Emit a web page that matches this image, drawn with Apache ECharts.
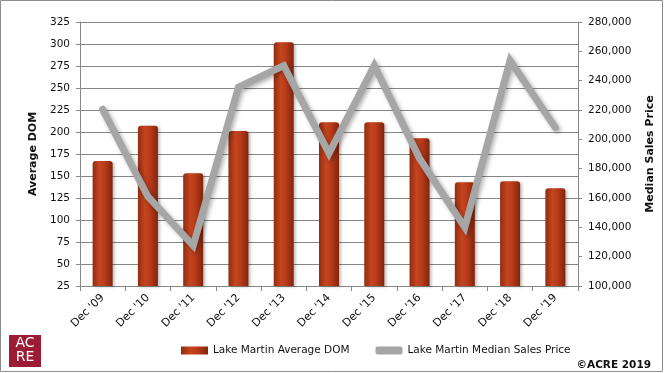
<!DOCTYPE html>
<html><head><meta charset="utf-8">
<script src="https://cdn.jsdelivr.net/npm/echarts@6/dist/echarts.min.js"></script>
<style>html,body{margin:0;padding:0;background:#fff}#c{width:664px;height:373px}</style>
</head><body><div id="c"></div>
<script>
const categories = ["Dec '09","Dec '10","Dec '11","Dec '12","Dec '13","Dec '14","Dec '15","Dec '16","Dec '17","Dec '18","Dec '19"];
const avgDOM = [167, 207, 153, 201, 302, 211, 211, 193, 143, 144, 136];
const medianPrice = [220500, 161000, 127500, 235500, 250300, 190500, 250300, 187000, 140000, 253700, 208000];
const domTicks = {min: 25, max: 325, interval: 25};
const priceTicks = {min: 100000, max: 280000, interval: 20000};

const chart = echarts.init(document.getElementById('c'), null, {renderer: 'canvas'});
const font = 'DejaVu Sans';
const barGrad = new echarts.graphic.LinearGradient(0, 0, 1, 0, [
  {offset: 0, color: '#922c10'},
  {offset: 0.35, color: '#c4451f'},
  {offset: 0.6, color: '#b93b19'},
  {offset: 1, color: '#80250c'}
]);
chart.setOption({
  animation: false,
  textStyle: {fontFamily: font},
  grid: {left: 80, right: 80, top: 22, bottom: 87},
  legend: {
    bottom: 12, left: 176, itemGap: 26, itemWidth: 27, itemHeight: 8,
    textStyle: {fontFamily: font, fontSize: 10.5, color: '#111'},
    data: [
      {name: 'Lake Martin Average DOM', icon: 'rect'},
      {name: 'Lake Martin Median Sales Price', icon: 'roundRect'}
    ]
  },
  xAxis: {
    type: 'category', data: categories,
    axisLine: {lineStyle: {color: '#888'}},
    axisTick: {show: true, alignWithLabel: false, length: 5, lineStyle: {color: '#888'}},
    axisLabel: {rotate: 45, interval: 0, fontSize: 11, color: '#111', margin: 10}
  },
  yAxis: [
    {
      type: 'value', min: domTicks.min, max: domTicks.max, interval: domTicks.interval,
      name: 'Average DOM', nameLocation: 'middle', nameRotate: 90, nameGap: 37,
      nameTextStyle: {fontWeight: 'bold', fontSize: 11, color: '#111'},
      axisLine: {show: true, lineStyle: {color: '#888'}},
      axisTick: {show: true, length: 4, lineStyle: {color: '#888'}},
      axisLabel: {fontSize: 10.5, color: '#111', margin: 10},
      splitLine: {lineStyle: {color: '#868686', width: 1}}
    },
    {
      type: 'value', min: priceTicks.min, max: priceTicks.max, interval: priceTicks.interval,
      position: 'right',
      name: 'Median Sales Price', nameLocation: 'middle', nameRotate: 90, nameGap: 67,
      nameTextStyle: {fontWeight: 'bold', fontSize: 11, color: '#111'},
      axisLine: {show: true, lineStyle: {color: '#888'}},
      axisTick: {show: true, length: 4, lineStyle: {color: '#888'}},
      axisLabel: {fontSize: 10.5, color: '#111', margin: 10,
        formatter: v => v.toLocaleString('en-US')},
      splitLine: {show: false}
    }
  ],
  series: [
    {
      name: 'Lake Martin Average DOM', type: 'bar', data: avgDOM, yAxisIndex: 0,
      barWidth: 20,
      itemStyle: {color: barGrad, borderRadius: [3, 3, 0, 0],
        shadowColor: 'rgba(0,0,0,0.25)', shadowBlur: 3, shadowOffsetX: 2, shadowOffsetY: 1}
    },
    {
      name: 'Lake Martin Median Sales Price', type: 'line', data: medianPrice, yAxisIndex: 1,
      symbol: 'none', z: 5,
      lineStyle: {color: '#a6a6a6', width: 7, cap: 'round', join: 'miter',
        shadowColor: 'rgba(0,0,0,0.3)', shadowBlur: 4, shadowOffsetX: 2, shadowOffsetY: 2},
      itemStyle: {color: '#a6a6a6'}
    }
  ],
  graphic: [
    {type: 'rect', shape: {x: 0.5, y: 0.5, width: 662, height: 371},
      style: {fill: 'none', stroke: '#8c8c8c', lineWidth: 1}, silent: true},
    {type: 'rect', shape: {x: 9, y: 335, width: 32, height: 32},
      style: {fill: '#9b1c34'}},
    {type: 'text', x: 25, y: 336, style: {text: 'AC', fill: '#fff', align: 'center',
      font: '14px "DejaVu Sans"'}},
    {type: 'text', x: 25, y: 350, style: {text: 'RE', fill: '#fff', align: 'center',
      font: '14px "DejaVu Sans"'}},
    {type: 'text', right: 13, bottom: 2, style: {text: '\u00A9ACRE 2019', fill: '#111',
      font: 'bold 10.5px "DejaVu Sans"'}}
  ]
});
</script></body></html>
